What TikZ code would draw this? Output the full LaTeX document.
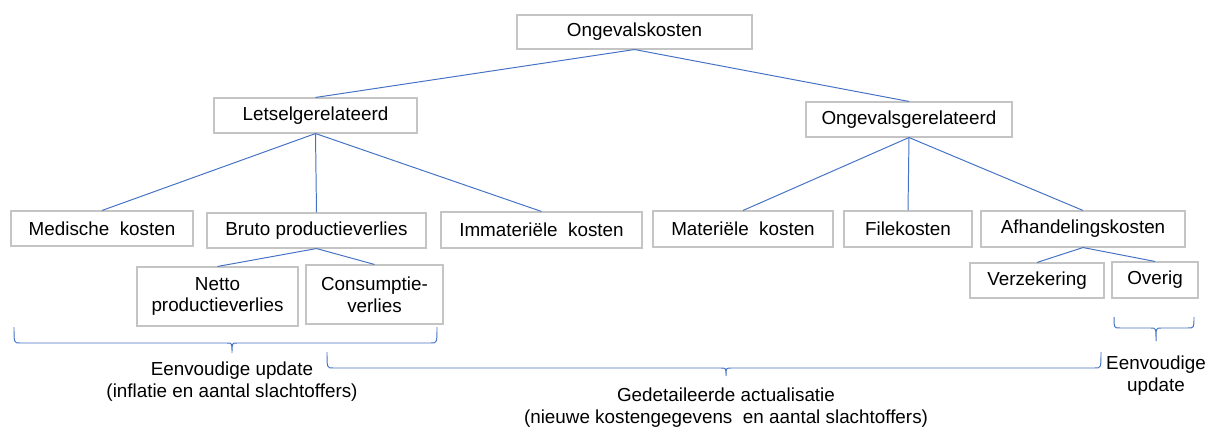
\documentclass[tikz,border=0pt]{standalone}
\usepackage{fontspec}
\setmainfont{Liberation Sans}
\usepackage{xcolor}
\usepackage{tikz}
\usetikzlibrary{positioning}

\definecolor{boxgray}{HTML}{C4C4C4}
\definecolor{linkblue}{HTML}{4472C4}

\begin{document}
\begin{tikzpicture}[x=0.025cm,y=-0.025cm,
	box/.style 2 args={draw=boxgray,line width=0.75pt,inner sep=0pt,align=center,
		minimum width=#1*0.025cm,minimum height=#2*0.025cm},
	link/.style={draw=linkblue,line width=0.7pt},
	accolade/.style={draw=linkblue,line width=0.7pt},
	lbl/.style={align=center,inner sep=0pt}]
\useasboundingbox (0,0) rectangle (1213,427);
\fontsize{13.4}{15.6}\selectfont

% bovenste niveaus
\node[box={235}{34}] (kosten) at (634.5,32) {Ongevalskosten};
\node[box={203}{35}] (letsel) at (315.5,115.5) {Letselgerelateerd};
\node[box={206}{35}] (ongeval) at (909,119.5) {Ongevalsgerelateerd};

% kostenposten
\node[box={182}{35}] (medisch) at (102,228.5) {Medische\ \ kosten};
\node[box={219}{35}] (bruto) at (316.5,230.5) {Bruto productieverlies};
\node[box={201}{36}] (immat) at (541.5,230) {Immateriële\ \ kosten};
\node[box={180}{36}] (mater) at (743,229) {Materiële\ \ kosten};
\node[box={128}{36}] (file) at (908,229) {Filekosten};
\node[box={204}{36}] (afhand) at (1083,229) {Afhandelingskosten};

% onderste niveau
\node[box={161}{59}] (netto) at (217.5,296.5) {Netto\\productieverlies};
\node[box={137}{59}] (consump) at (374.5,294.5) {Consumptie-\\verlies};
\node[box={134}{35}] (verzek) at (1037,280.5) {Verzekering};
\node[box={86}{36}] (overig) at (1155,280) {Overig};

\draw[link] (kosten.south) -- (letsel.north);
\draw[link] (kosten.south) -- (ongeval.north);
\foreach \k in {medisch,bruto,immat}{
	\draw[link] (letsel.south) -- (\k.north);
}
\foreach \k in {mater,file,afhand}{
	\draw[link] (ongeval.south) -- (\k.north);
}
\draw[link] (bruto.south) -- (netto.north);
\draw[link] (bruto.south) -- (consump.north);
\draw[link] (afhand.south) -- (verzek.north);
\draw[link] (afhand.south) -- (overig.north);

% accolades
\foreach \xa/\xb/\yt/\yb/\xm/\d in {14/437/327/343/232/10, 327/1101/352/368/726/8, 1114/1194/317/328/1156/13}{
	\draw[accolade] (\xa,\yt) .. controls (\xa,\yb) .. (\xa+6,\yb) -- (\xm-5,\yb)
		.. controls (\xm,\yb) .. (\xm,\yb+\d) .. controls (\xm,\yb) .. (\xm+5,\yb)
		-- (\xb-6,\yb) .. controls (\xb,\yb) .. (\xb,\yt);
}

\node[lbl] (eenv1) at (232,382) {Eenvoudige update\\(inflatie en aantal slachtoffers)};
\node[lbl] (gedet) at (726,407.5) {Gedetaileerde actualisatie\\(nieuwe kostengegevens\ \ en aantal slachtoffers)};
\node[lbl] (eenv2) at (1156,375.5) {Eenvoudige\\update};
\end{tikzpicture}
\end{document}
